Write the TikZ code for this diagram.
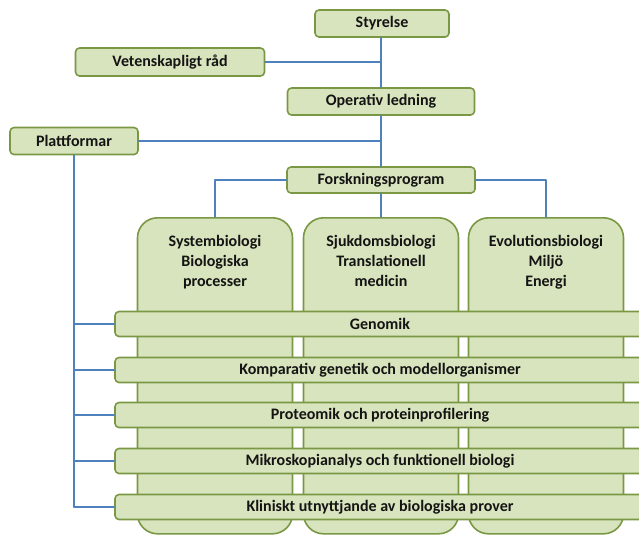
\documentclass[tikz,border=0pt]{standalone}
\usepackage{fontspec}
\setmainfont{Carlito}
\usetikzlibrary{positioning}
\definecolor{boxfill}{RGB}{215,228,189}
\definecolor{boxline}{RGB}{122,152,68}
\definecolor{linkblue}{RGB}{79,129,189}
\begin{document}
\begin{tikzpicture}[x=1pt,y=-1pt,line cap=round,line join=round,
    box/.style={draw=boxline,fill=boxfill,line width=1.6pt,rounded corners=4pt,
      inner sep=0pt,text=black!92,font=\bfseries\fontsize{16}{20}\selectfont},
    column/.style={box,rounded corners=20pt,minimum width=155pt,minimum height=316pt,anchor=north},
    bar/.style={box,minimum width=530pt,minimum height=25pt},
    coltext/.style={align=center,inner sep=0pt,text=black!92,anchor=north,
      font=\bfseries\fontsize{16}{20}\selectfont},
    link/.style={draw=linkblue,line width=1.8pt}]
  \useasboundingbox (0,0) rectangle (639,536);
  \clip (0,0) rectangle (639,536);
  \node[box,minimum width=134pt,minimum height=27pt] (styr) at (382,23.5) {Styrelse};
  \node[box,minimum width=189pt,minimum height=28pt] (vet) at (170,62) {Vetenskapligt råd};
  \node[box,minimum width=187pt,minimum height=27pt] (opl) at (381,101.5) {Operativ ledning};
  \node[box,minimum width=128pt,minimum height=27pt] (plat) at (74,141) {Plattformar};
  \node[box,minimum width=188pt,minimum height=26pt] (fp) at (381,180) {Forskningsprogram};
  \node[column] (sys) at (215,217) {};
  \node[column] (sjuk) at (381,217) {};
  \node[column] (evo) at (546,217) {};
  \node[coltext,below=18pt of sys.north] {Systembiologi\\Biologiska\\processer};
  \node[coltext,below=18pt of sjuk.north] {Sjukdomsbiologi\\Translationell\\medicin};
  \node[coltext,below=18pt of evo.north] {Evolutionsbiologi\\Miljö\\Energi};
  \node[bar] (gen) at (380,324) {Genomik};
  \node[bar] (komp) at (380,370) {Komparativ genetik och modellorganismer};
  \node[bar] (prot) at (380,415) {Proteomik och proteinprofilering};
  \node[bar] (mikr) at (380,461) {Mikroskopianalys och funktionell biologi};
  \node[bar] (klin) at (380,507) {Kliniskt utnyttjande av biologiska prover};
  \draw[link] (opl.north -| sjuk) -- (styr.south -| sjuk);
  \draw[link] (opl) -- (fp);
  \draw[link] (vet) -- (vet -| opl);
  \draw[link] (plat) -- (plat -| opl);
  \draw[link] (fp) -| (sys);
  \draw[link] (fp) -- (sjuk);
  \draw[link] (fp) -| (evo);
  \draw[link] (plat) -- (plat |- klin);
  \foreach \b in {gen,komp,prot,mikr,klin}
    \draw[link] (\b.west) -- (\b -| plat);
\end{tikzpicture}
\end{document}
